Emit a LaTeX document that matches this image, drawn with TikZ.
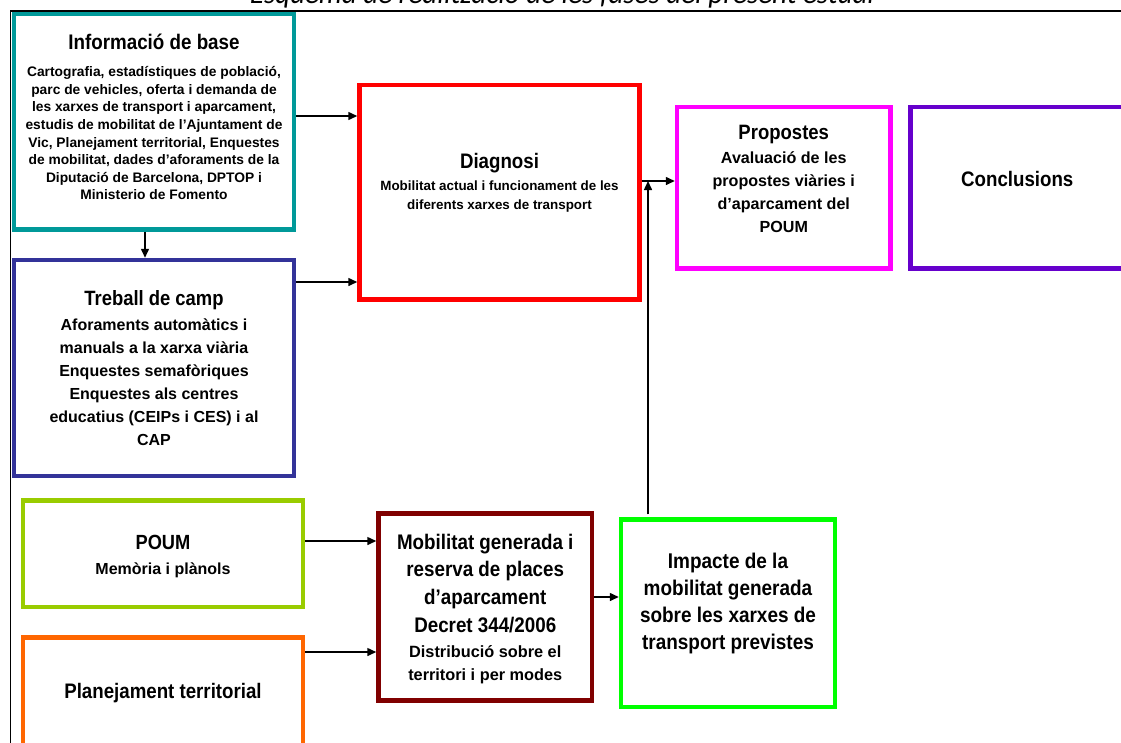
\documentclass[tikz,border=0pt]{standalone}
\usepackage{fontspec}
\setmainfont{Liberation Sans}
\newfontfamily\tfont{Liberation Sans}[FakeStretch=0.89]
\newfontfamily\capfont{Carlito}
\usetikzlibrary{arrows.meta}
\definecolor{cteal}{HTML}{009999}
\definecolor{cnavy}{HTML}{333399}
\definecolor{cred}{HTML}{FF0000}
\definecolor{cmag}{HTML}{FF00FF}
\definecolor{cpurp}{HTML}{6600CC}
\definecolor{cyg}{HTML}{99CC00}
\definecolor{corange}{HTML}{FF6600}
\definecolor{cdred}{HTML}{800000}
\definecolor{cgreen}{HTML}{00FF00}
\newcommand{\fsz}[2]{\fontsize{#1}{#2}\selectfont}
\newcommand{\ttl}[1]{\tfont\bfseries\fsz{#1}{24}}
\tikzset{
  box/.style={draw=#1, line width=4.5pt, fill=white, inner sep=0pt},
  txt/.style={align=center, inner sep=0pt, anchor=base},
  arr/.style={-{Triangle[length=9pt,width=8pt]}, line width=1.5pt}
}
\begin{document}
\begin{tikzpicture}[x=1pt,y=-1pt]
\useasboundingbox (0,0) rectangle (1121,742);
\clip (0,0) rectangle (1121,742);
% caption (cut at the top)
\node[txt, font=\capfont\itshape\fsz{29}{31}] (cap) at (562,3.5) {Esquema de realització de les fases del present estudi};
% frame
\draw[line width=1.8pt] (1130,11) -- (10.5,11) -- (10.5,750);
% boxes
\node[box=cteal, minimum width=280pt, minimum height=215.5pt] (info) at (154,121.75) {};
\node[box=cnavy, minimum width=280pt, minimum height=216pt] (treb) at (154,368) {};
\node[box=cred, minimum width=280pt, minimum height=214.5pt] (diag) at (499.5,192.25) {};
\node[box=cmag, minimum width=213.5pt, minimum height=161.5pt] (prop) at (783.75,187.75) {};
\node[box=cpurp, minimum width=213.5pt, minimum height=161.5pt] (concl) at (1017.25,187.75) {};
\node[box=cyg, minimum width=280pt, minimum height=106.5pt] (poum) at (163,553.75) {};
\node[box=corange, minimum width=280pt, minimum height=110pt] (plan) at (163,692.5) {};
\node[box=cdred, minimum width=213.5pt, minimum height=187pt] (mob) at (485.25,607) {};
\node[box=cgreen, minimum width=214pt, minimum height=187.5pt] (imp) at (728,613.25) {};
% texts (anchor base = baseline of the last line)
\node[txt, font=\bfseries\fsz{13.8}{17.6}] (infot) at (154,199.8) {{\ttl{21.1}Informació de base}\\[9.8pt]
Cartografia, estadístiques de població,\\
parc de vehicles, oferta i demanda de\\
les xarxes de transport i aparcament,\\
estudis de mobilitat de l’Ajuntament de\\
Vic, Planejament territorial, Enquestes\\
de mobilitat, dades d’aforaments de la\\
Diputació de Barcelona, DPTOP i\\
Ministerio de Fomento};
\node[txt, font=\bfseries\fsz{13.4}{19}] (diagt) at (499.5,209.4) {{\ttl{21}Diagnosi}\\[3.2pt]
Mobilitat actual i funcionament de les\\
diferents xarxes de transport};
\node[txt, font=\bfseries\fsz{16}{23}] (trebt) at (154,445.3) {{\ttl{20.7}Treball de camp}\\[2.3pt]
Aforaments automàtics i\\
manuals a la xarxa viària\\
Enquestes semafòriques\\
Enquestes als centres\\
educatius (CEIPs i CES) i al\\
CAP};
\node[txt, font=\bfseries\fsz{16.1}{23}] (propt) at (783.75,232.3) {{\ttl{20.8}Propostes}\\[1.3pt]
Avaluació de les\\
propostes viàries i\\
d’aparcament del\\
POUM};
\node[txt, font=\ttl{21}] (conclt) at (1017.25,186) {Conclusions};
\node[txt, font=\bfseries\fsz{16}{22.4}] (poumt) at (163,574.3) {{\ttl{20.5}POUM}\\[2.9pt]
Memòria i plànols};
\node[txt, font=\ttl{21}] (plant) at (163,698) {Planejament territorial};
\node[txt, font=\tfont\bfseries\fsz{21.1}{27.6}] (mobt) at (485.25,680.4) {Mobilitat generada i\\
reserva de places\\
d’aparcament\\
Decret 344/2006\\[-2.2pt]
{\rmfamily\bfseries\fsz{16.3}{23}Distribució sobre el}\\[-4.6pt]
{\rmfamily\bfseries\fsz{16.3}{23}territori i per modes}};
\node[txt, font=\tfont\bfseries\fsz{21.3}{27}] (impt) at (728,649.3) {Impacte de la\\
mobilitat generada\\
sobre les xarxes de\\
transport previstes};
% connectors
\coordinate (j) at (648,181);
\draw[arr] (info.east |- 0,116) -- (diag.west |- 0,116);
\draw[arr] (treb.east |- 0,282) -- (diag.west |- 0,282);
\draw[arr] (info.south -| 145,0) -- (treb.north -| 145,0);
\draw[arr] (diag.east |- j) -- (prop.west |- j);
\draw[arr, shorten <=3pt] (imp.north -| j) -- (j);
\draw[arr] (poum.east |- 0,541) -- (mob.west |- 0,541);
\draw[arr] (plan.east |- 0,652) -- (mob.west |- 0,652);
\draw[arr] (mob.east |- 0,597) -- (imp.west |- 0,597);
\end{tikzpicture}
\end{document}
